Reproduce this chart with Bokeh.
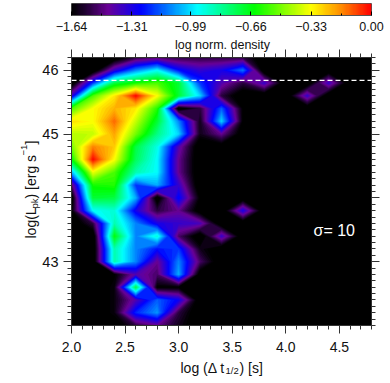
import numpy as np
from bokeh.plotting import figure
from bokeh.layouts import column
from bokeh.models import Label, Span, FixedTicker, LinearAxis
from bokeh.embed import file_html
from bokeh.resources import INLINE

B = -1.72
x_grid = [2.0, 2.2, 2.4, 2.6, 2.8, 3.0, 3.2, 3.4, 3.6, 3.8, 4.0, 4.2, 4.4, 4.6, 4.8]
y_grid = [46.2, 46.0, 45.8, 45.6, 45.4, 45.2, 45.0, 44.8, 44.6, 44.4, 44.2, 44.0, 43.8, 43.6, 43.4, 43.2, 43.0, 42.8, 42.6, 42.4, 42.2, 42.0]
r462 = [B, B, -1.75, -1.55, -1.5, -1.55, -1.55, -1.55, -1.55, -1.8, B, B, B, B, B]
r460 = [B, -1.8, -1.35, -1.1, -0.95, -1.25, -1.35, -1.3, -1.12, -1.75, B, B, B, B, B]
r458 = [-1.72, -1.2, -0.72, -0.62, -0.55, -0.7, -1.2, -1.4, -1.55, -1.35, -1.75, -1.75, -1.35, -1.75, B]
r456 = [-1.35, -0.55, -0.3, 0.0, -0.33, -0.7, -1.0, -1.55, -1.75, -1.75, -1.75, -1.35, -1.75, B, B]
r454 = [-0.55, -0.33, -0.22, -0.3, -0.6, -1.7, -1.55, -1.15, -1.65, B, B, -1.75, B, B, B]
r452 = [-0.28, -0.33, -0.12, -0.4, -0.7, -1.1, -1.6, -1.0, -1.65, B, B, B, B, B, B]
r450 = [-0.42, -0.4, -0.2, -0.5, -0.8, -1.0, -1.6, -1.45, -1.7, B, B, B, B, B, B]
r448 = [-0.5, -0.15, -0.25, -0.72, -0.92, -1.4, -1.8, -1.7, B, B, B, B, B, B, B]
r446 = [-0.65, 0.0, -0.33, -0.75, -0.95, -1.45, B, B, B, B, B, B, B, B, B]
r444 = [-1.05, -0.35, -0.55, -0.85, -0.95, -1.45, -1.75, B, B, B, B, B, B, B, B]
r442 = [-1.5, -0.62, -0.6, -1.2, -1.05, -1.35, -1.8, B, B, B, B, B, B, B, B]
r440 = [-1.7, -0.7, -0.72, -1.05, -1.7, -1.25, -1.65, B, B, B, B, B, B, B, B]
r438 = [-1.65, -0.95, -0.9, -1.3, -1.55, -1.45, -1.7, -1.75, -1.3, -1.75, B, B, B, B, B]
r436 = [B, -1.55, -0.85, -1.1, -1.3, -1.35, -1.38, -1.75, -1.75, B, B, B, B, B, B]
r434 = [B, -1.9, -0.65, -1.1, -0.9, -1.5, -1.75, -1.35, -1.75, B, B, B, B, B, B]
r432 = [B, -1.9, -0.85, -1.1, -1.25, -1.2, -1.6, -1.75, B, B, B, B, B, B, B]
r430 = [B, -1.75, -0.85, -1.1, -1.45, -1.1, -1.5, -1.85, B, B, B, B, B, B, B]
r428 = [B, B, -1.65, -1.4, -1.5, -1.05, -1.7, B, B, B, B, B, B, B, B]
r426 = [B, B, -1.62, -0.72, -1.65, -1.65, B, B, B, B, B, B, B, B, B]
r424 = [B, B, -1.62, -1.4, -1.15, -1.28, -1.8, B, B, B, B, B, B, B, B]
r422 = [B, B, -1.62, -1.22, -1.08, -1.55, B, B, B, B, B, B, B, B, B]
r420 = [B, B, -1.7, -1.55, -1.45, -1.6, B, B, B, B, B, B, B, B, B]
rows = [r462, r460, r458, r456, r454, r452, r450, r448, r446, r444, r442, r440,
        r438, r436, r434, r432, r430, r428, r426, r424, r422, r420]

bar_ticks = [-1.64, -1.31, -0.99, -0.66, -0.33, 0.0]
bar_labels = ["\u22121.64", "\u22121.31", "\u22120.99", "\u22120.66", "\u22120.33", "0.00"]
bar_minor = [-1.475, -1.15, -0.825, -0.495, -0.165]
x_ticks = [2.0, 2.5, 3.0, 3.5, 4.0, 4.5]
y_ticks = [43, 44, 45, 46]
sep_line = 45.84
vmin, vmax = -1.64, 0.0

anchors = [0, .05, .12, .23, .42, .61, .80, .90, 1]
cols = [(0, 0, 0), (35, 0, 55), (105, 0, 150), (0, 0, 255), (0, 255, 255), (0, 255, 0), (255, 255, 0), (255, 140, 0), (255, 0, 0)]
def cmap(t):
    return tuple(int(round(np.interp(t, anchors, [c[i] for c in cols]))) for i in range(3))
def hexc(c):
    return "#%02x%02x%02x" % c

FONT = "Liberation Sans"
W = 390

# colour bar
cb = figure(width=W, height=48, x_range=(vmin, vmax), y_range=(0, 1), output_backend="svg", toolbar_location=None,
            min_border_left=70, min_border_right=19, min_border_top=3, min_border_bottom=33,
            background_fill_color=None, border_fill_color=None)
cb.yaxis.visible = False
cb.grid.visible = False
n = 256
img = np.zeros((1, n), dtype=np.uint32)
view = img.view(dtype=np.uint8).reshape((1, n, 4))
for i in range(n):
    r, g, b = cmap(i / (n - 1))
    view[0, i] = (r, g, b, 255)
cb.image_rgba(image=[img], x=vmin, y=0, dw=vmax - vmin, dh=1)
cb.outline_line_color = "#555555"
ax = cb.xaxis[0]
ax.ticker = FixedTicker(ticks=bar_ticks, minor_ticks=bar_minor)
ax.major_label_overrides = dict(zip(bar_ticks, bar_labels))
ax.major_tick_in = 4; ax.major_tick_out = 0
ax.minor_tick_in = 2; ax.minor_tick_out = 0
ax.axis_line_color = "#555555"
ax.major_label_text_font = FONT; ax.major_label_text_font_size = "12.5px"; ax.major_label_text_color = "#111111"
ax.major_label_standoff = 6
ax.axis_label = None

# main panel
p = figure(width=W, height=335, x_range=(2.0, 4.8), y_range=(42.0, 46.2), output_backend="svg", toolbar_location=None,
           min_border_left=71, min_border_right=19, min_border_top=9, min_border_bottom=58,
           background_fill_color="black", border_fill_color=None)
p.grid.visible = False
Z = np.clip(np.array(rows), -1.72, 0.0)[::-1]
X, Y = np.meshgrid(x_grid, y_grid[::-1])
N = 82
levels = np.linspace(vmin, 0.0, N)
for i in range(N - 1):
    p.contour(X, Y, Z, [float(levels[i]), 0.01], fill_color=hexc(cmap((i + .5) / (N - 1))), line_color=None)
p.add_layout(Span(location=sep_line, dimension="width", line_color="white", line_width=1.3, line_dash="5 3"))

def style(a, ticks, lo, labels=True):
    a.ticker = FixedTicker(ticks=ticks, minor_ticks=list(np.round(np.arange(lo[0], lo[1] + 1e-6, 0.1), 1)))
    a.major_tick_in = 0; a.major_tick_out = 8
    a.minor_tick_in = 0; a.minor_tick_out = 4
    a.axis_line_color = "#333333"
    a.major_tick_line_color = "#333333"; a.minor_tick_line_color = "#333333"
    a.major_label_text_font = FONT; a.major_label_text_font_size = "14px"; a.major_label_text_color = "#111111"
    a.axis_label = None
    if not labels:
        a.major_label_overrides = {t: "" for t in ticks}
        a.major_label_standoff = 0

style(p.xaxis[0], x_ticks, (2.0, 4.8))
p.xaxis[0].major_label_overrides = {t: "%.1f" % t for t in x_ticks}
p.xaxis[0].major_label_standoff = 8
style(p.yaxis[0], y_ticks, (42.0, 46.2))
p.yaxis[0].major_label_overrides = {t: str(t) for t in y_ticks}
p.yaxis[0].major_label_standoff = 5
p.yaxis[0].major_label_text_font_size = "14.5px"
top = LinearAxis(); p.add_layout(top, "above"); style(top, x_ticks, (2.0, 4.8), False)
right = LinearAxis(); p.add_layout(right, "right"); style(right, y_ticks, (42.0, 46.2), False)

# transparent full-page layer for the texts outside the panel (coordinates are page pixels)
ov = figure(width=W, height=383, x_range=(0, 390), y_range=(383, 0), output_backend="svg", toolbar_location=None,
            x_axis_type=None, y_axis_type=None, min_border=0, background_fill_color=None, border_fill_color=None,
            outline_line_color=None, margin=(-383, 0, 0, 0))
ov.grid.visible = False

def lab(x, y, t, size="14px", angle=0, color="#111111", align="left"):
    ov.add_layout(Label(x=x, y=y, text=t, text_font=FONT, text_font_size=size, angle=angle, angle_units="deg",
                        text_baseline="alphabetic", text_align=align, text_color=color))

lab(222, 44.5, "log norm. density", "12.5px", align="center")
lab(313, 230, "\u03c3= 10", "16px", color="white")
lab(180, 367, "log (\u0394 t", "14px")
lab(225, 370, "1/2", "9.5px")
lab(239, 367, ") [s]", "14px")
lab(30, 238, "log(L", "14px", 90)
lab(34, 208, "pk", "9.5px", 90)
lab(30, 198, ") [erg s", "14px", 90)
lab(23, 155, "\u22121", "9.5px", 90)
lab(30, 144, "]", "14px", 90)

open("out.html", "w").write(file_html([column(cb, p, spacing=0), ov], INLINE))
